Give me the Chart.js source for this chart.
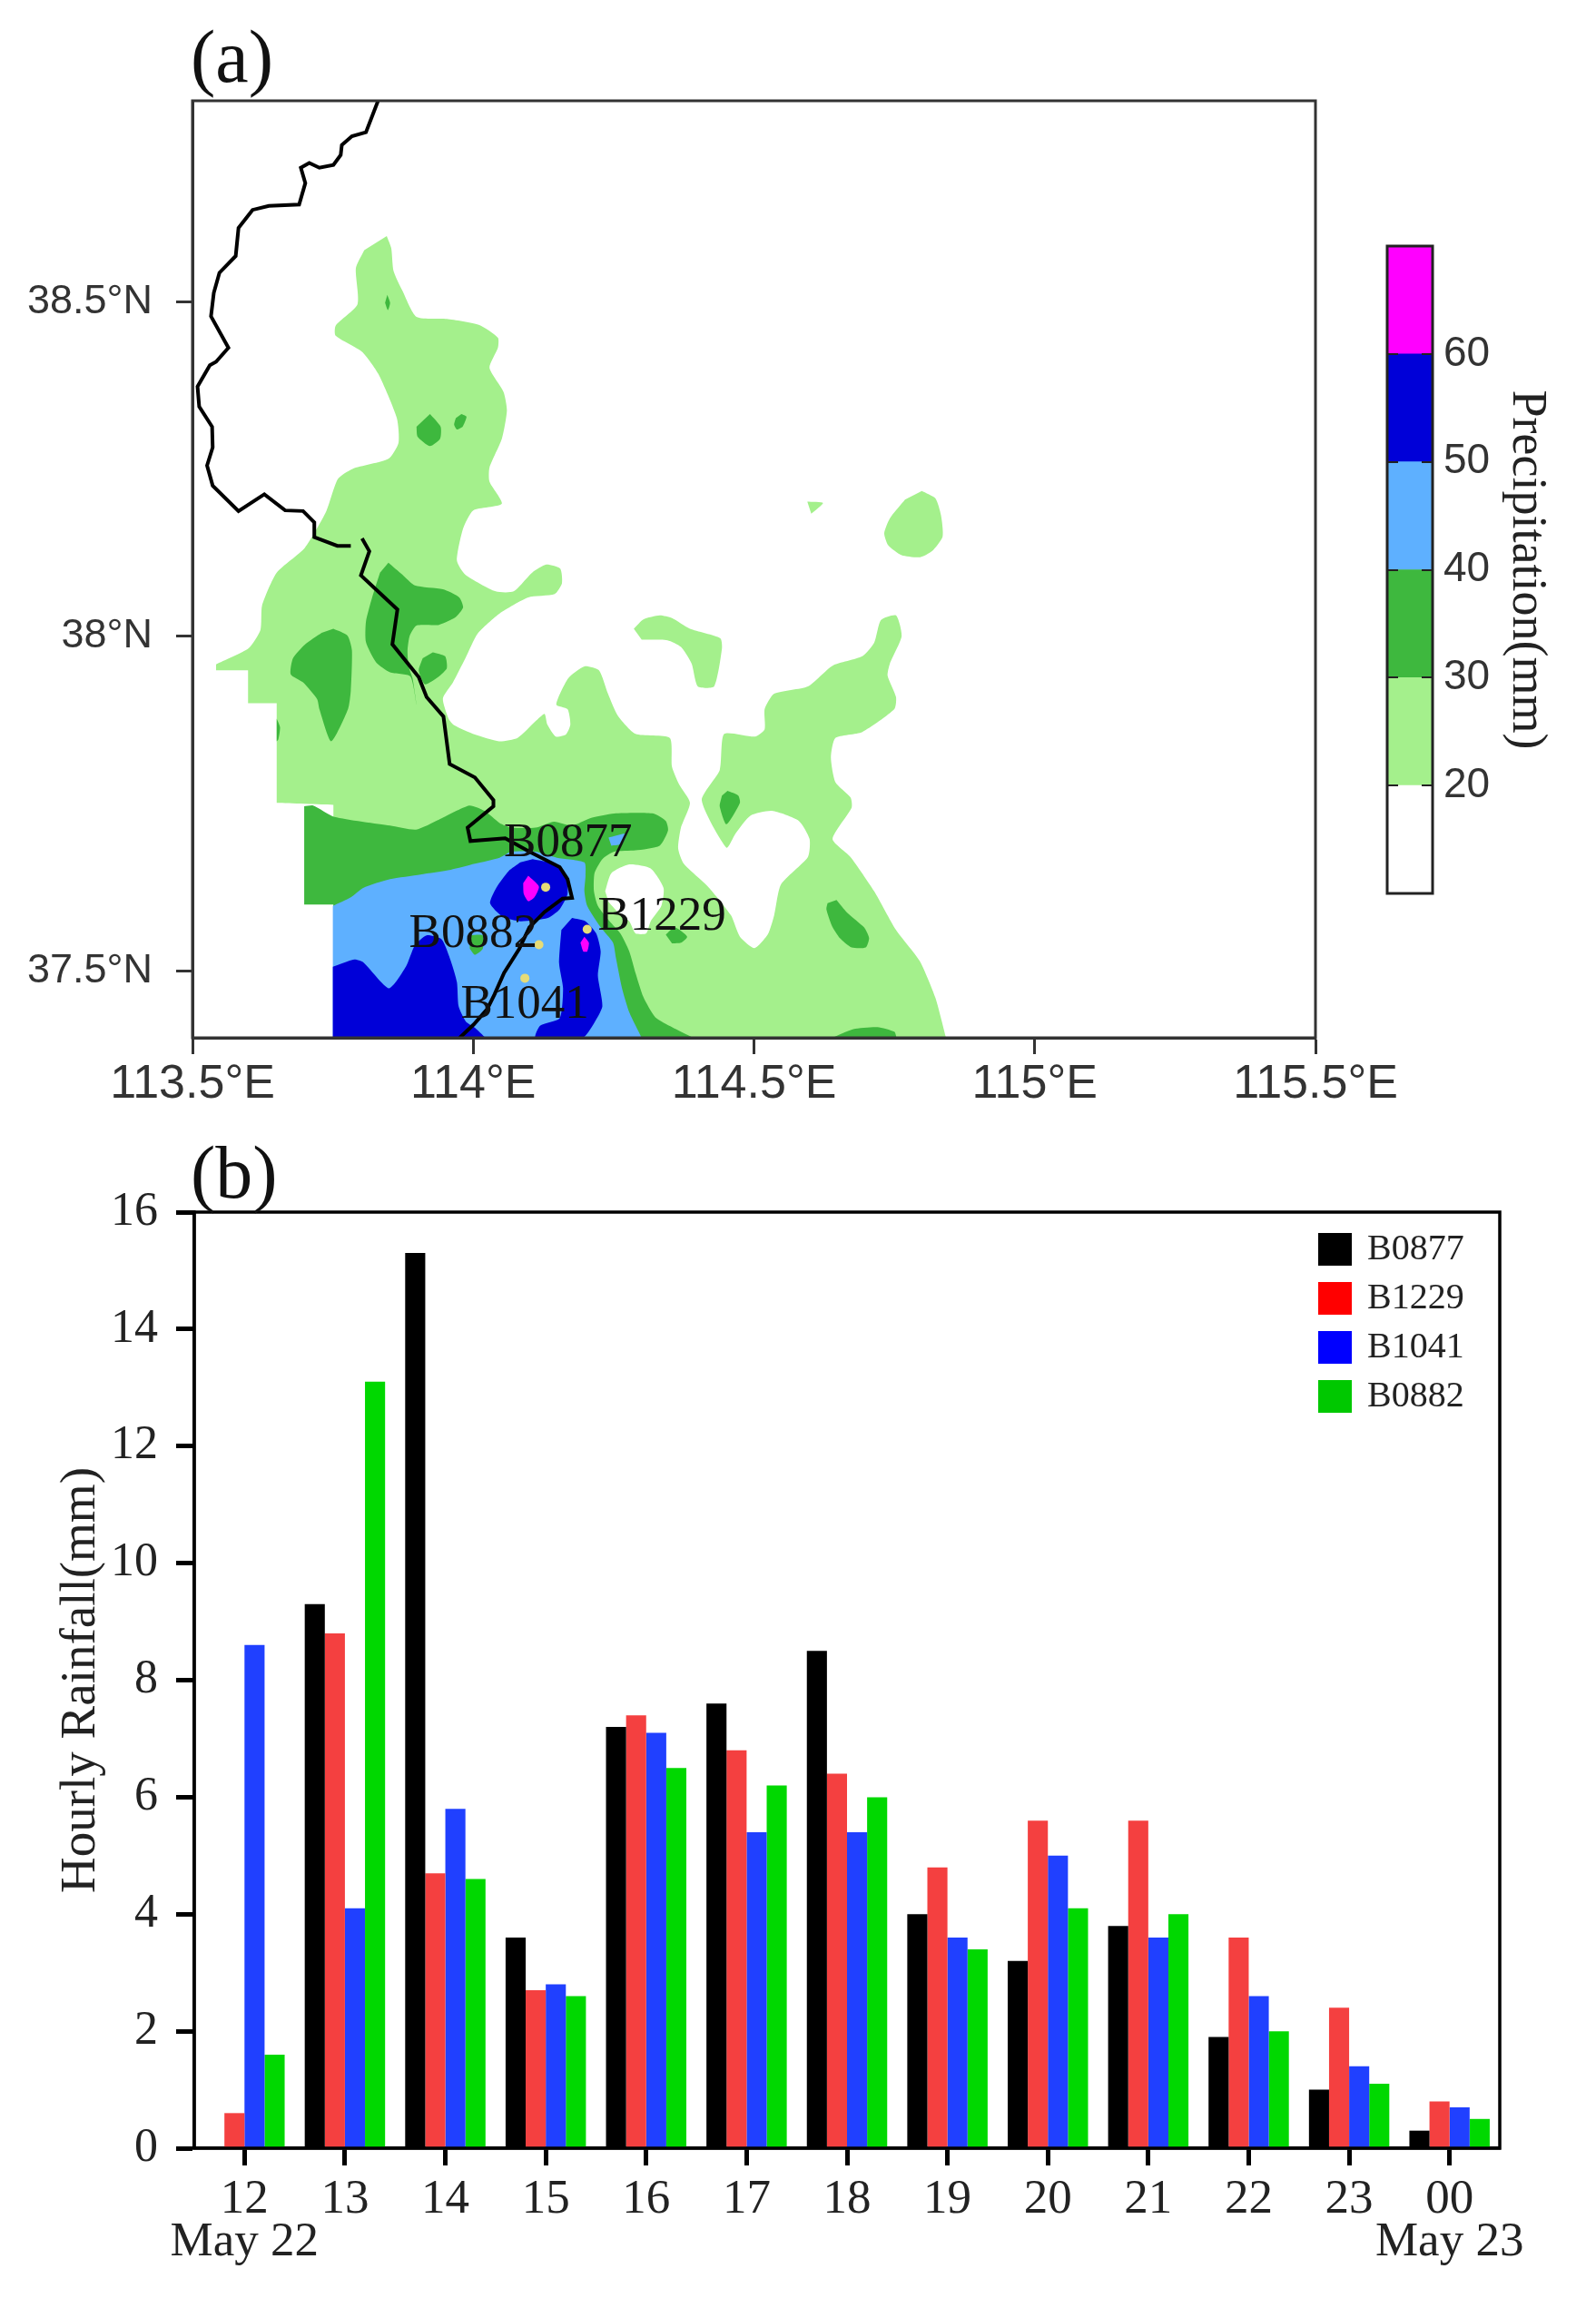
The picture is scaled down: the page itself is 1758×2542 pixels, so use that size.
<!DOCTYPE html>
<html lang="en">
<head>
<meta charset="UTF-8">
<title>Precipitation map and hourly rainfall</title>
<style>
  html, body { margin: 0; padding: 0; background: #fff; }
  canvas { position: absolute; display: block; }
</style>
</head>
<body>
<canvas id="mapChart" width="1758" height="1240" style="left:0;top:0"></canvas>
<canvas id="barChart" width="1758" height="1302" style="left:0;top:1240px"></canvas>
<canvas id="colorBar" width="258" height="780" style="left:1500px;top:240px"></canvas>

<script src="https://cdn.jsdelivr.net/npm/chart.js"></script>
<script>
// ---- panel (b) data ----
const hours = ['12','13','14','15','16','17','18','19','20','21','22','23','00'];
const dateNotes = { 0: 'May 22', 12: 'May 23' };
const rainB0877 = [0, 9.3, 15.3, 3.6, 7.2, 7.6, 8.5, 4.0, 3.2, 3.8, 1.9, 1.0, 0.3];
const rainB1229 = [0.6, 8.8, 4.7, 2.7, 7.4, 6.8, 6.4, 4.8, 5.6, 5.6, 3.6, 2.4, 0.8];
const rainB1041 = [8.6, 4.1, 5.8, 2.8, 7.1, 5.4, 5.4, 3.6, 5.0, 3.6, 2.6, 1.4, 0.7];
const rainB0882 = [1.6, 13.1, 4.6, 2.6, 6.5, 6.2, 6.0, 3.4, 4.1, 4.0, 2.0, 1.1, 0.5];
const rainTicks = [0, 2, 4, 6, 8, 10, 12, 14, 16];

// ---- panel (a) axes and stations, [lon, lat] ----
const lonTicks = [113.5, 114, 114.5, 115, 115.5];
const lonLabels = ['113.5°E', '114°E', '114.5°E', '115°E', '115.5°E'];
const latTicks = [37.5, 38, 38.5];
const latLabels = ['37.5°N', '38°N', '38.5°N'];
const stationNames = ['B0877', 'B1229', 'B0882', 'B1041'];
const stationPoints = [[114.129,37.625],[114.203,37.562],[114.117,37.539],[114.092,37.489]];
const stationLabelAt = [[114.169,37.69],[114.336,37.58],[114.0,37.555],[114.092,37.449]];

// ---- panel (a) contour outlines, [lon, lat]; a repeated point keeps a corner sharp ----
const band20Main = [[113.846,38.598],[113.854,38.580],[113.858,38.546],[113.874,38.516],[113.899,38.477],[113.953,38.474],[114.011,38.465],[114.044,38.446],[114.044,38.431],[114.029,38.401],[114.054,38.365],[114.060,38.337],[114.051,38.295],[114.029,38.252],[114.029,38.231],[114.051,38.198],[114.000,38.188],[113.982,38.161],[113.971,38.113],[113.986,38.092],[114.040,38.067],[114.072,38.067],[114.105,38.095],[114.130,38.107],[114.155,38.101],[114.158,38.079],[114.145,38.063],[114.098,38.058],[114.047,38.034],[114.008,38.004],[113.986,37.967],[113.964,37.931],[113.946,37.907],
  [113.956,37.877],[113.966,37.867],[114.003,37.853],[114.046,37.843],[114.079,37.848],[114.111,37.873],[114.127,37.884],[114.132,37.868],[114.147,37.850],[114.165,37.853],[114.173,37.868],[114.168,37.891],[114.148,37.898],[114.169,37.937],[114.198,37.955],[114.224,37.949],[114.240,37.914],[114.257,37.882],[114.289,37.854],[114.350,37.848],[114.354,37.805],[114.367,37.778],[114.386,37.751],[114.370,37.714],[114.365,37.683],[114.375,37.660],[114.418,37.626],[114.459,37.583],[114.475,37.551],[114.501,37.534],[114.525,37.555],[114.536,37.583],[114.548,37.629],[114.596,37.670],[114.599,37.697],[114.580,37.724],[114.532,37.739],[114.494,37.732],[114.467,37.705],[114.451,37.684],[114.407,37.755],[114.439,37.800],[114.447,37.854],[114.502,37.850],[114.519,37.861],[114.519,37.891],[114.536,37.914],[114.596,37.925],[114.640,37.956],[114.693,37.970],[114.714,37.990],[114.726,38.024],[114.753,38.031],[114.763,38.000],[114.742,37.959],[114.738,37.941],[114.753,37.909],[114.750,37.891],[114.693,37.857],[114.645,37.848],[114.637,37.819],[114.645,37.782],[114.672,37.759],[114.674,37.744],[114.640,37.697],[114.672,37.670],[114.714,37.619],[114.753,37.561],[114.795,37.515],[114.823,37.460],[114.842,37.400],[114.842,37.400],
  [113.751,37.400],[113.751,37.400],[113.751,37.748],[113.751,37.748],[113.650,37.751],[113.650,37.751],[113.650,37.900],[113.650,37.900],[113.599,37.900],[113.599,37.900],[113.599,37.949],[113.599,37.949],[113.542,37.949],[113.542,37.949],[113.542,37.958],[113.542,37.958],[113.600,37.982],[113.621,38.009],[113.624,38.046],[113.650,38.095],[113.700,38.132],[113.738,38.186],[113.759,38.235],[113.785,38.250],[113.849,38.265],[113.867,38.289],[113.864,38.326],[113.831,38.392],[113.802,38.425],[113.755,38.449],[113.755,38.464],[113.794,38.496],[113.791,38.550],[113.806,38.577]];
const band20Banana = [[114.286,38.011],[114.303,38.025],[114.332,38.031],[114.354,38.027],[114.386,38.011],[114.440,37.997],[114.443,37.982],[114.429,37.925],[114.400,37.925],[114.389,37.959],[114.370,37.984],[114.346,37.994],[114.300,37.995]];
const band20Oval = [[114.799,38.217],[114.823,38.206],[114.833,38.181],[114.836,38.149],[114.817,38.127],[114.796,38.118],[114.763,38.121],[114.739,38.136],[114.732,38.154],[114.742,38.176],[114.769,38.204]];
const band20Speck = [[114.595,38.201],[114.623,38.199],[114.602,38.183]];
const whiteHole = [[114.235,37.619],[114.246,37.646],[114.278,37.659],[114.316,37.653],[114.339,37.624],[114.335,37.597],[114.316,37.574],[114.308,37.556],[114.289,37.556],[114.278,37.574],[114.257,37.588],[114.241,37.603]];

const band30Tiny = [[113.847,38.510],[113.852,38.498],[113.848,38.487],[113.843,38.498]];
const band30Diamond = [[113.923,38.332],[113.942,38.313],[113.941,38.295],[113.923,38.284],[113.901,38.298],[113.899,38.313]];
const band30Sliver = [[113.979,38.332],[113.988,38.328],[113.981,38.313],[113.971,38.309],[113.966,38.316],[113.969,38.326]];
const band30Ridge = [[113.849,38.110],[113.874,38.092],[113.896,38.076],[113.946,38.070],[113.975,38.058],[113.982,38.043],[113.968,38.028],[113.939,38.017],[113.899,38.016],[113.887,38.001],[113.883,37.979],[113.885,37.955],[113.892,37.937],[113.899,37.897],[113.888,37.940],[113.852,37.946],[113.827,37.961],[113.809,37.991],[113.809,38.022],[113.820,38.058],[113.834,38.095]];
const band30Small = [[113.928,37.976],[113.950,37.970],[113.953,37.952],[113.939,37.940],[113.914,37.928],[113.903,37.949],[113.910,37.967]];
const band30West = [[113.751,38.011],[113.776,38.001],[113.784,37.979],[113.782,37.919],[113.777,37.891],[113.747,37.843],[113.726,37.891],[113.722,37.906],[113.697,37.931],[113.675,37.943],[113.679,37.967],[113.701,37.988],[113.730,38.005]];
const band30Edge = [[113.650,37.877],[113.656,37.864],[113.653,37.846],[113.650,37.843]];
const band30South = [[113.699,37.599],[113.699,37.746],[113.699,37.746],[113.715,37.747],[113.753,37.730],[113.852,37.717],[113.898,37.711],[113.939,37.726],[113.993,37.747],[114.020,37.739],[114.047,37.721],[114.068,37.714],[114.111,37.714],[114.144,37.723],[114.176,37.717],[114.208,37.728],[114.251,37.735],[114.321,37.735],[114.343,37.724],[114.347,37.710],[114.332,37.687],[114.289,37.680],[114.251,37.678],[114.230,37.667],[114.216,37.646],[114.215,37.619],[114.222,37.597],[114.243,37.574],[114.262,37.556],[114.278,37.529],[114.289,37.497],[114.303,37.461],[114.324,37.431],[114.354,37.416],[114.392,37.400],[114.392,37.400],[113.751,37.400],[113.751,37.400],[113.751,37.599]];
const band30Wedge = [[114.453,37.769],[114.472,37.762],[114.475,37.751],[114.451,37.719],[114.439,37.746],[114.443,37.762]];
const band30East = [[114.647,37.606],[114.666,37.587],[114.696,37.565],[114.705,37.549],[114.699,37.535],[114.674,37.535],[114.653,37.549],[114.639,37.567],[114.629,37.592],[114.631,37.601]];
const band30Foot = [[114.639,37.400],[114.677,37.413],[114.720,37.416],[114.750,37.409],[114.754,37.400]];
const band30Under = [[114.343,37.554],[114.359,37.565],[114.381,37.551],[114.370,37.542],[114.354,37.541]];
const band30Spot = [[113.993,37.553],[114.017,37.553],[114.017,37.533],[114.003,37.524],[113.994,37.533]];

const band40Main = [[113.750,37.597],[113.782,37.610],[113.804,37.624],[113.852,37.637],[113.906,37.644],[113.960,37.651],[114.003,37.660],[114.047,37.669],[114.068,37.678],[114.111,37.678],[114.149,37.669],[114.198,37.662],[114.200,37.642],[114.198,37.619],[114.203,37.597],[114.227,37.565],[114.249,37.542],[114.254,37.520],[114.265,37.474],[114.278,37.438],[114.300,37.400],[114.300,37.400],[113.750,37.400]];
const band40Patch = [[114.241,37.699],[114.273,37.705],[114.265,37.690],[114.246,37.687]];

const band50West = [[113.750,37.506],[113.788,37.517],[113.804,37.513],[113.850,37.474],[113.880,37.506],[113.896,37.538],[113.917,37.553],[113.944,37.547],[113.960,37.515],[113.971,37.483],[113.974,37.447],[113.987,37.424],[114.003,37.415],[114.022,37.400],[114.022,37.400],[113.750,37.400]];
const band50North = [[114.106,37.667],[114.144,37.660],[114.165,37.642],[114.168,37.615],[114.154,37.592],[114.133,37.579],[114.084,37.574],[114.052,37.581],[114.030,37.601],[114.041,37.624],[114.063,37.649],[114.084,37.662]];
const band50East = [[114.176,37.579],[114.200,37.574],[114.219,37.556],[114.227,37.529],[114.222,37.493],[114.230,37.447],[114.214,37.420],[114.195,37.400],[114.111,37.400],[114.119,37.418],[114.154,37.429],[114.160,37.474],[114.153,37.511],[114.157,37.561]];

const band60North = [[114.098,37.642],[114.117,37.626],[114.109,37.610],[114.098,37.604],[114.090,37.615],[114.089,37.631]];
const band60East = [[114.198,37.551],[114.206,37.542],[114.203,37.529],[114.196,37.529],[114.191,37.542]];

const borderNorth = [[113.831,38.801],[113.809,38.753],[113.784,38.747],[113.766,38.734],[113.764,38.719],[113.751,38.704],[113.726,38.700],[113.708,38.707],[113.693,38.700],[113.701,38.677],[113.690,38.645],[113.636,38.643],[113.607,38.637],[113.582,38.610],[113.577,38.568],[113.548,38.543],[113.538,38.513],[113.533,38.478],[113.564,38.431],[113.542,38.410],[113.531,38.405],[113.509,38.373],[113.512,38.343],[113.535,38.313],[113.536,38.282],[113.526,38.255],[113.536,38.225],[113.582,38.187],[113.628,38.212],[113.665,38.188],[113.697,38.187],[113.717,38.170],[113.717,38.148],[113.758,38.135],[113.782,38.135]];
const borderSouth = [[113.802,38.146],[113.815,38.127],[113.800,38.091],[113.865,38.040],[113.856,37.988],[113.903,37.939],[113.917,37.909],[113.947,37.880],[113.958,37.809],[114.003,37.789],[114.036,37.755],[114.036,37.746],[113.990,37.714],[113.995,37.694],[114.057,37.698],[114.100,37.678],[114.154,37.655],[114.168,37.637],[114.176,37.609],[114.159,37.608],[114.127,37.588],[114.100,37.565],[114.082,37.533],[114.055,37.497],[114.038,37.465],[114.025,37.443],[114.001,37.420],[113.976,37.400]];

// ---- colour bar ----
const colorLevels = [10, 20, 30, 40, 50, 60, 70];
const colorBands = ['#ffffff', '#a4f08c', '#3eb83e', '#5eb0ff', '#0000d8', '#ff00ff'];
const colorTicks = [20, 30, 40, 50, 60];

const SANS = '"Liberation Sans", Arial, sans-serif';
const SERIF = '"Liberation Serif", "Times New Roman", serif';

// box round the plot area
const framePlugin = {
  id: 'frame',
  afterDatasetsDraw(chart, args, opts) {
    const { ctx, chartArea: a } = chart;
    ctx.save();
    ctx.strokeStyle = opts.color;
    ctx.lineWidth = opts.width;
    ctx.strokeRect(a.left, a.top, a.right - a.left, a.bottom - a.top);
    ctx.restore();
  }
};

function panelTag(text, x, y) {
  return {
    id: 'tag',
    afterDraw(chart) {
      const ctx = chart.ctx;
      ctx.save();
      ctx.font = '82px ' + SERIF;
      ctx.fillStyle = '#111';
      ctx.textAlign = 'left';
      ctx.textBaseline = 'alphabetic';
      ctx.fillText(text, x, y);
      ctx.restore();
    }
  };
}

const stationTextPlugin = {
  id: 'stationText',
  afterDatasetsDraw(chart) {
    const { ctx, scales } = chart;
    ctx.save();
    ctx.font = '53px ' + SERIF;
    ctx.fillStyle = '#111';
    ctx.textAlign = 'center';
    ctx.textBaseline = 'middle';
    stationNames.forEach((name, i) => {
      ctx.fillText(name, scales.x.getPixelForValue(stationLabelAt[i][0]), scales.y.getPixelForValue(stationLabelAt[i][1]));
    });
    ctx.restore();
  }
};

function toXY(list) {
  return list.map(p => ({ x: p[0], y: p[1] }));
}

// painter's order, first entry is at the bottom
const mapLayers = [
  [band20Main, colorBands[1]], [band20Banana, colorBands[1]], [band20Oval, colorBands[1]], [band20Speck, colorBands[1]],
  [whiteHole, colorBands[0]],
  [band30Tiny, colorBands[2]], [band30Diamond, colorBands[2]], [band30Sliver, colorBands[2]], [band30Ridge, colorBands[2]],
  [band30Small, colorBands[2]], [band30West, colorBands[2]], [band30Edge, colorBands[2]], [band30South, colorBands[2]],
  [band30Wedge, colorBands[2]], [band30East, colorBands[2]], [band30Foot, colorBands[2]], [band30Under, colorBands[2]],
  [band40Main, colorBands[3]], [band40Patch, colorBands[3]], [band30Spot, colorBands[2]],
  [band50West, colorBands[4]], [band50North, colorBands[4]], [band50East, colorBands[4]],
  [band60North, colorBands[5]], [band60East, colorBands[5]]
];

const mapDatasets = mapLayers.map((layer, i) => ({
  data: toXY(layer[0]),
  showLine: true,
  fill: 'shape',
  backgroundColor: layer[1],
  borderWidth: 0,
  borderColor: 'transparent',
  pointRadius: 0,
  tension: 0.2,
  order: 100 - i
}));
[borderNorth, borderSouth].forEach(line => {
  mapDatasets.push({ data: toXY(line), showLine: true, fill: false, borderColor: '#000', borderWidth: 4, pointRadius: 0, order: 10 });
});
mapDatasets.push({ data: toXY(stationPoints), showLine: false, pointRadius: 5, pointBackgroundColor: '#e6dc78', pointBorderWidth: 0, order: 5 });

new Chart(document.getElementById('mapChart'), {
  type: 'scatter',
  data: { datasets: mapDatasets },
  options: {
    responsive: false,
    animation: false,
    events: [],
    layout: { autoPadding: false, padding: { left: 0, top: 111, right: 309, bottom: 0 } },
    plugins: { legend: { display: false }, tooltip: { enabled: false }, frame: { color: '#333', width: 3 } },
    scales: {
      x: {
        type: 'linear', min: 113.5, max: 115.5,
        afterBuildTicks: s => { s.ticks = lonTicks.map(v => ({ value: v })); },
        afterFit: s => { s.height = 97; },
        grid: { drawOnChartArea: false, tickLength: 18, tickWidth: 3, tickColor: '#333' },
        border: { color: '#333', width: 3 },
        ticks: { autoSkip: false, maxRotation: 0, padding: 2, color: '#333', font: { family: SANS, size: 52 }, callback: (v, i) => lonLabels[i] }
      },
      y: {
        type: 'linear', min: 37.4, max: 38.8,
        afterBuildTicks: s => { s.ticks = latTicks.map(v => ({ value: v })); },
        afterFit: s => { s.width = 212; },
        grid: { drawOnChartArea: false, tickLength: 18, tickWidth: 3, tickColor: '#333' },
        border: { color: '#333', width: 3 },
        ticks: { autoSkip: false, padding: 26, color: '#333', font: { family: SANS, size: 45 }, callback: (v, i) => latLabels[i] }
      }
    }
  },
  plugins: [framePlugin, stationTextPlugin, panelTag('(a)', 210, 90)]
});

// ---- colour bar ----
new Chart(document.getElementById('colorBar'), {
  type: 'bar',
  data: {
    labels: [''],
    datasets: colorBands.map((c, i) => ({
      data: [[colorLevels[i], colorLevels[i + 1]]],
      backgroundColor: c,
      borderWidth: 0,
      barPercentage: 1,
      categoryPercentage: 1
    }))
  },
  options: {
    responsive: false,
    animation: false,
    events: [],
    layout: { autoPadding: false, padding: { left: 28, top: 31, right: 0, bottom: 36 } },
    plugins: { legend: { display: false }, tooltip: { enabled: false }, frame: { color: '#222', width: 3 } },
    scales: {
      x: { stacked: true, display: false },
      y: {
        position: 'right', min: 10, max: 70,
        afterBuildTicks: s => { s.ticks = colorTicks.map(v => ({ value: v })); },
        afterFit: s => { s.width = 180; s.paddingTop = 0; s.paddingBottom = 0; },
        grid: { drawOnChartArea: true, drawTicks: false, color: '#222', lineWidth: 2, z: 1 },
        border: { display: false, dash: [12, 26, 12] },
        ticks: { padding: 12, color: '#333', font: { family: SANS, size: 46 } },
        title: { display: true, text: 'Precipitation(mm)', color: '#222', font: { family: SERIF, size: 54 }, padding: { top: 44, bottom: 0 } }
      }
    }
  },
  plugins: [framePlugin]
});

// ---- panel (b) ----
const legendColors = ['#000000', '#ff0000', '#0000ff', '#00c800'];
const legendPlugin = {
  id: 'boxLegend',
  afterDraw(chart) {
    const { ctx, chartArea: a } = chart;
    ctx.save();
    ctx.font = '40px ' + SERIF;
    ctx.textAlign = 'left';
    ctx.textBaseline = 'middle';
    chart.data.datasets.forEach((ds, i) => {
      const top = a.top + 23 + i * 54;
      ctx.fillStyle = legendColors[i];
      ctx.fillRect(a.right - 200, top, 37, 36);
      ctx.fillStyle = '#222';
      ctx.fillText(ds.label, a.right - 146, top + 18);
    });
    ctx.restore();
  }
};

new Chart(document.getElementById('barChart'), {
  type: 'bar',
  data: {
    labels: hours,
    datasets: [
      { label: 'B0877', data: rainB0877, backgroundColor: '#000000' },
      { label: 'B1229', data: rainB1229, backgroundColor: '#f44040' },
      { label: 'B1041', data: rainB1041, backgroundColor: '#2040ff' },
      { label: 'B0882', data: rainB0882, backgroundColor: '#00d800' }
    ]
  },
  options: {
    responsive: false,
    animation: false,
    events: [],
    datasets: { bar: { categoryPercentage: 0.8, barPercentage: 1 } },
    layout: { autoPadding: false, padding: { left: 0, top: 95, right: 106, bottom: 0 } },
    plugins: { legend: { display: false }, tooltip: { enabled: false }, frame: { color: '#000', width: 3.5 } },
    scales: {
      x: {
        afterFit: s => { s.height = 176; },
        grid: { offset: false, drawOnChartArea: false, tickLength: 19, tickWidth: 5, tickColor: '#000' },
        border: { color: '#000', width: 3.5 },
        ticks: {
          autoSkip: false, maxRotation: 0, padding: 14, color: '#222',
          font: { family: SERIF, size: 53, lineHeight: 0.9 },
          callback: function (v, i) {
            const h = this.getLabelForValue(v);
            return dateNotes[i] ? [h, dateNotes[i]] : h;
          }
        }
      },
      y: {
        min: 0, max: 16,
        afterBuildTicks: s => { s.ticks = rainTicks.map(v => ({ value: v })); },
        afterFit: s => { s.width = 214; },
        grid: { drawOnChartArea: false, tickLength: 20, tickWidth: 5, tickColor: '#000' },
        border: { color: '#000', width: 3.5 },
        ticks: { padding: 20, color: '#222', font: { family: SERIF, size: 52 } },
        title: { display: true, text: 'Hourly Rainfall(mm)', color: '#222', font: { family: SERIF, size: 55 }, padding: { top: 57, bottom: 0 } }
      }
    }
  },
  plugins: [framePlugin, legendPlugin, panelTag('(b)', 210, 79)]
});
</script>
</body>
</html>
